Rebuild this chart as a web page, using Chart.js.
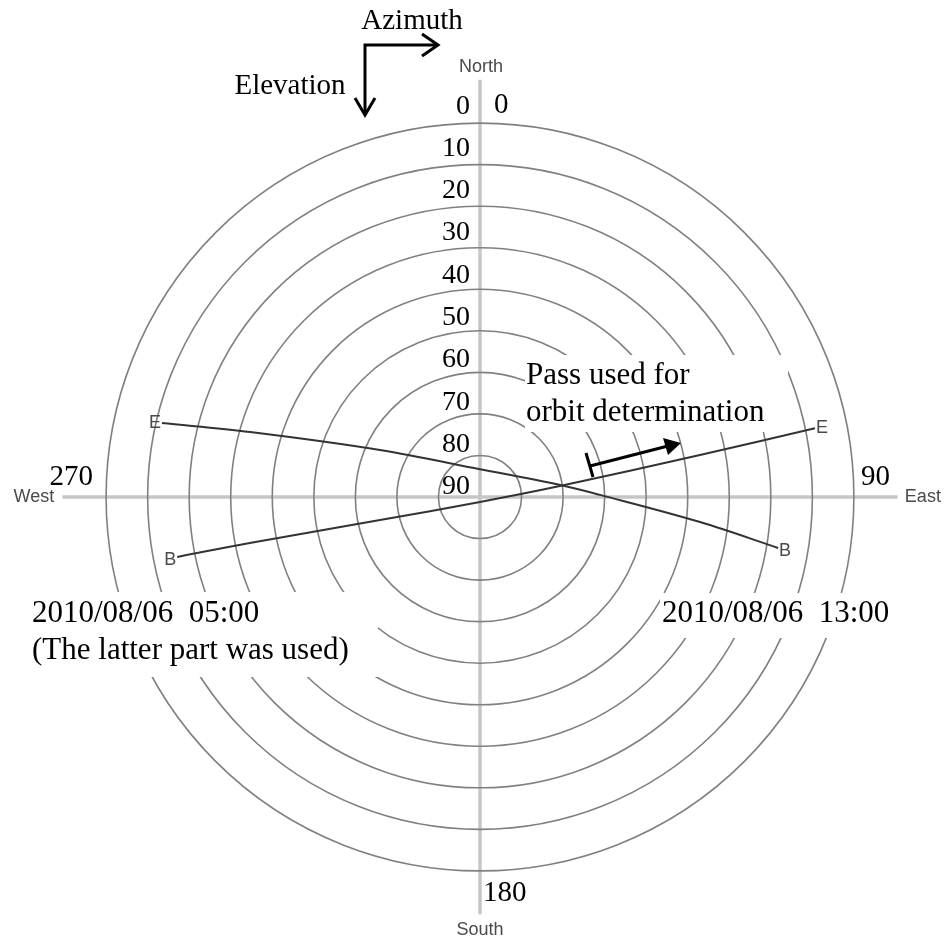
<!DOCTYPE html>
<html>
<head>
<meta charset="utf-8">
<script src="https://cdn.jsdelivr.net/npm/chart.js@4.4.1/dist/chart.umd.min.js"></script>
<style>
html, body { margin: 0; padding: 0; background: #fff; }
</style>
</head>
<body>
<canvas id="skyplot" width="945" height="939"></canvas>
<script>
// elevation rings (deg) and their labels
const ringElevations = [0, 10, 20, 30, 40, 50, 60, 70, 80];
const elevationLabels = ['0', '10', '20', '30', '40', '50', '60', '70', '80', '90'];
const azimuthLabels = ['0', '90', '180', '270'];
const compassLabels = ['North', 'East', 'South', 'West'];

// pass 2010/08/06 05:00 (B -> E)
const pass1Azimuth = [258.8, 258.7, 257.0, 180.0, 82.2, 79.2, 78.4];
const pass1Elevation = [15.7, 33.5, 65.3, 88.8, 70.6, 36.1, 7.7];
// pass 2010/08/06 13:00 (B -> E)
const pass2Azimuth = [99.7, 96.5, 89.0, 81.5, 0.0, 295.2, 285.8, 283.1];
const pass2Elevation = [17.2, 36.7, 61.1, 70.5, 83.3, 63.4, 32.5, 11.4];
const passEnds = ['B', 'E'];

// az/el -> x/y on the plot (zenith distance as radius, north up)
function toXY(az, el) {
    const r = 90 - el;
    const a = az * Math.PI / 180;
    return { x: r * Math.sin(a), y: r * Math.cos(a) };
}

const pass1 = pass1Azimuth.map((az, i) => toXY(az, pass1Elevation[i]));
const pass2 = pass2Azimuth.map((az, i) => toXY(az, pass2Elevation[i]));

const serif = '"Liberation Serif", "Times New Roman", serif';
const sans = '"Liberation Sans", Arial, sans-serif';

function arrowLine(ctx, x1, y1, x2, y2) {
    ctx.beginPath();
    ctx.moveTo(x1, y1);
    ctx.lineTo(x2, y2);
    ctx.stroke();
}

const skyGrid = {
    id: 'skyGrid',
    beforeDraw(chart) {
        const ctx = chart.ctx;
        ctx.save();
        ctx.fillStyle = '#fff';
        ctx.fillRect(0, 0, chart.width, chart.height);
        ctx.restore();
    },
    beforeDatasetsDraw(chart) {
        const ctx = chart.ctx;
        const xs = chart.scales.x, ys = chart.scales.y;
        const cx = xs.getPixelForValue(0), cy = ys.getPixelForValue(0);
        ctx.save();

        // cross axes
        ctx.strokeStyle = '#c6c6c6';
        ctx.lineWidth = 3.5;
        arrowLine(ctx, xs.getPixelForValue(-100.5), cy, xs.getPixelForValue(100.5), cy);
        arrowLine(ctx, cx, ys.getPixelForValue(100.5), cx, ys.getPixelForValue(-100.5));

        // elevation rings
        ctx.strokeStyle = '#808080';
        ctx.lineWidth = 1.6;
        ringElevations.forEach(el => {
            const r = xs.getPixelForValue(90 - el) - cx;
            ctx.beginPath();
            ctx.arc(cx, cy, r, 0, Math.PI * 2);
            ctx.stroke();
        });

        // white boxes behind annotations
        ctx.fillStyle = '#fff';
        ctx.fillRect(cx + 45, cy - 142, 263, 77);
        ctx.fillRect(cx - 460, cy + 95, 358, 85);
        ctx.fillRect(cx + 180, cy + 96, 240, 45);
        ctx.restore();
    },
    afterDatasetsDraw(chart) {
        const ctx = chart.ctx;
        const xs = chart.scales.x, ys = chart.scales.y;
        const cx = xs.getPixelForValue(0), cy = ys.getPixelForValue(0);
        ctx.save();
        ctx.textBaseline = 'middle';

        // compass names
        ctx.font = '18px ' + sans;
        ctx.fillStyle = '#4a4a4a';
        ctx.textAlign = 'center';
        ctx.fillText(compassLabels[0], cx + 1, ys.getPixelForValue(103.6));
        ctx.fillText(compassLabels[1], xs.getPixelForValue(106.6), cy);
        ctx.fillText(compassLabels[2], cx, ys.getPixelForValue(-104.3));
        ctx.fillText(compassLabels[3], xs.getPixelForValue(-107.4), cy);

        // B / E at both ends of each pass
        [chart.getDatasetMeta(0), chart.getDatasetMeta(1)].forEach(meta => {
            const pts = meta.data;
            [pts[0], pts[pts.length - 1]].forEach((p, k) => {
                const dir = p.x < cx ? -1 : 1;
                ctx.fillText(passEnds[k], p.x + dir * 7, p.y + (k === 0 ? 3 : 0));
            });
        });

        // elevation labels
        ctx.fillStyle = '#000';
        ctx.font = '28px ' + serif;
        ctx.textAlign = 'right';
        elevationLabels.forEach((lab, i) => {
            const py = ys.getPixelForValue(90 - i * 10) - 17 + i * 0.75;
            ctx.fillText(lab, cx - 10, py);
        });

        // azimuth labels
        ctx.font = '29px ' + serif;
        ctx.textAlign = 'left';
        ctx.fillText(azimuthLabels[0], cx + 14, cy - 392);
        ctx.fillText(azimuthLabels[1], cx + 381, cy - 20);
        ctx.fillText(azimuthLabels[2], cx + 3, cy + 396);
        ctx.textAlign = 'right';
        ctx.fillText(azimuthLabels[3], cx - 387, cy - 20);

        // Azimuth / Elevation direction key
        ctx.textAlign = 'center';
        ctx.fillText('Azimuth', 412, 21);
        ctx.fillText('Elevation', 290, 86);
        ctx.strokeStyle = '#000';
        ctx.lineWidth = 3;
        ctx.lineJoin = 'miter';
        ctx.beginPath();
        ctx.moveTo(437, 45);
        ctx.lineTo(365, 45);
        ctx.lineTo(365, 114);
        ctx.stroke();
        ctx.beginPath();
        ctx.moveTo(422, 34);
        ctx.lineTo(438, 45);
        ctx.lineTo(422, 56);
        ctx.stroke();
        ctx.beginPath();
        ctx.moveTo(355, 98);
        ctx.lineTo(365, 115);
        ctx.lineTo(375, 98);
        ctx.stroke();

        // annotations
        ctx.font = '31px ' + serif;
        ctx.textAlign = 'left';
        ctx.fillText('Pass used for', 526, 376);
        ctx.fillText('orbit determination', 526, 413);
        ctx.fillText('2010/08/06  05:00', 32, 614);
        ctx.fillText('(The latter part was used)', 32, 651);
        ctx.fillText('2010/08/06  13:00', 662, 614);

        // marker of the used part
        ctx.lineWidth = 3;
        arrowLine(ctx, 586, 453, 593, 477);
        arrowLine(ctx, 590, 466, 668, 446);
        ctx.fillStyle = '#000';
        ctx.beginPath();
        ctx.moveTo(681, 443);
        ctx.lineTo(663, 438);
        ctx.lineTo(668, 455);
        ctx.closePath();
        ctx.fill();
        ctx.restore();
    }
};

new Chart(document.getElementById('skyplot'), {
    type: 'scatter',
    data: {
        datasets: [
            {
                label: '2010/08/06 05:00',
                data: pass1,
                showLine: true,
                borderColor: '#333',
                borderWidth: 2,
                pointRadius: 0,
                tension: 0.35
            },
            {
                label: '2010/08/06 13:00',
                data: pass2,
                showLine: true,
                borderColor: '#333',
                borderWidth: 2,
                pointRadius: 0,
                tension: 0.35
            }
        ]
    },
    options: {
        responsive: false,
        animation: false,
        layout: { padding: { left: 23, right: 8, top: 61, bottom: 6 } },
        plugins: {
            legend: { display: false },
            tooltip: { enabled: false }
        },
        scales: {
            x: { type: 'linear', min: -110, max: 110, display: false },
            y: { type: 'linear', min: -105, max: 105, display: false }
        }
    },
    plugins: [skyGrid]
});
</script>
</body>
</html>
